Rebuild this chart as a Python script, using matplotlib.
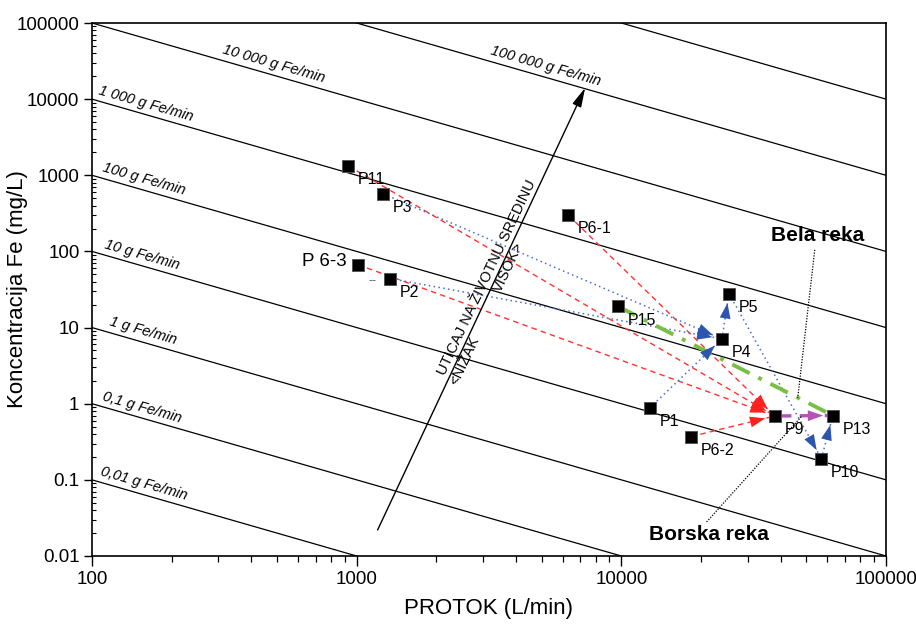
import numpy as np
import matplotlib
matplotlib.use("Agg")
import matplotlib.pyplot as plt
from matplotlib.ticker import FixedLocator, FuncFormatter, LogLocator, NullFormatter

plt.rcParams["font.family"] = ["Liberation Sans", "DejaVu Sans"]

# sampling points: flow (L/min) and Fe concentration (mg/L)
names = ["P11", "P3", "P 6-3", "P2", "P6-1", "P15", "P4", "P5",
         "P1", "P6-2", "P9", "P13", "P10"]
flow = [930, 1260, 1010, 1340, 6300, 9700, 24000, 25500,
        12800, 18300, 38000, 63000, 57000]
conc = [1330, 570, 67, 44, 300, 19, 7.1, 28,
        0.88, 0.37, 0.69, 0.70, 0.19]

# constant Fe load lines (g Fe/min)
loads = [0.01, 0.1, 1, 10, 100, 1000, 10000, 100000, 1000000]
load_labels = ["0,01 g Fe/min", "0,1 g Fe/min", "1 g Fe/min", "10 g Fe/min",
               "100 g Fe/min", "1 000 g Fe/min", "10 000 g Fe/min",
               "100 000 g Fe/min", ""]
load_label_x = [107, 109, 116, 111, 109, 105, 310, 3190, None]

# flow paths between points
red_paths = [("P11", "P9"), ("P 6-3", "P9"), ("P6-1", "P9"), ("P6-2", "P9")]
blue_paths = [("P3", "P4"), ("P2", "P4"), ("P1", "P4"), ("P4", "P5"),
              ("P5", "P10"), ("P10", "P13")]
magenta_paths = [("P9", "P13")]
green_paths = [("P15", "P13")]

# impact arrow (bottom -> top) and river leaders
impact_start = (1200, 0.022)
impact_end = (7300, 14100)
bela_text = (55300, 160)
bela_leader = [(53800, 105), (46400, 1.19)]
borska_text = (21400, 0.0189)
borska_leader = [(21000, 0.028), (48100, 0.69)]

pos = dict(zip(names, zip(flow, conc)))

fig = plt.figure(figsize=(9.16, 6.26), dpi=100)
ax = fig.add_axes([92 / 916, 1 - 556 / 626, 794 / 916, 533 / 626])
ax.set_xscale("log")
ax.set_yscale("log")
ax.set_xlim(100, 100000)
ax.set_ylim(0.01, 100000)


def screen_angle(p0, p1):
    d0 = ax.transData.transform(p0)
    d1 = ax.transData.transform(p1)
    return np.degrees(np.arctan2(d1[1] - d0[1], d1[0] - d0[0]))


def along(p0, p1, t):
    lx = np.log10(p0[0]) + t * (np.log10(p1[0]) - np.log10(p0[0]))
    ly = np.log10(p0[1]) + t * (np.log10(p1[1]) - np.log10(p0[1]))
    return 10 ** lx, 10 ** ly


# load lines
q = np.array([100.0, 100000.0])
line_angle = screen_angle((100, 10), (100000, 0.01))
for load, label, lx in zip(loads, load_labels, load_label_x):
    ax.plot(q, 1000 * load / q, color="black", lw=0.9, zorder=1)
    if label:
        ax.annotate(label, xy=(lx, 1000 * load / lx), xytext=(0, 5),
                    textcoords="offset points", rotation=line_angle,
                    rotation_mode="anchor", ha="left", va="baseline",
                    fontsize=10.5, fontstyle="italic")


def head(p0, p1, color):
    d0 = ax.transData.transform(p0)
    d1 = ax.transData.transform(p1)
    v = (d1 - d0) / np.hypot(*(d1 - d0))
    tail = ax.transData.inverted().transform(d1 - v * 25)
    ax.annotate("", xy=p1, xytext=tail,
                arrowprops=dict(arrowstyle="-|>,head_length=0.85,head_width=0.3",
                                color=color, lw=0, shrinkA=0, shrinkB=7,
                                mutation_scale=13), zorder=4)


for a, b in red_paths:
    p0, p1 = pos[a], pos[b]
    ax.plot([p0[0], p1[0]], [p0[1], p1[1]], color="#ff3333", lw=1.0,
            dashes=(4, 3), zorder=2)
    head(p0, p1, "#ff2020")

for a, b in blue_paths:
    p0, p1 = pos[a], pos[b]
    ax.plot([p0[0], p1[0]], [p0[1], p1[1]], color="#4a6cd0", lw=1.1,
            dashes=(1, 2.2), zorder=2)
    head(p0, p1, "#2d55b0")

for a, b in magenta_paths:
    p0, p1 = pos[a], pos[b]
    ax.plot([p0[0], p1[0]], [p0[1], p1[1]], color="#b552b5", lw=2.4,
            dashes=(5, 2.5), zorder=2)
    head(p0, p1, "#b552b5")

for a, b in green_paths:
    p0, p1 = pos[a], pos[b]
    ax.plot([p0[0], p1[0]], [p0[1], p1[1]], color="#78bf45", lw=2.8,
            dashes=(5, 2.5, 1, 2.5), zorder=2)

# sampling points and their labels
ax.plot(flow, conc, "s", color="black", markersize=8, mec="#555555",
        mew=0.7, zorder=5)
for n, x, y in zip(names, flow, conc):
    if n == "P 6-3":
        ax.annotate(n, xy=(x, y), xytext=(-8, 2), textcoords="offset points",
                    ha="right", va="center", fontsize=13.5)
    else:
        ax.annotate(n, xy=(x, y), xytext=(7, -10), textcoords="offset points",
                    ha="left", va="center", fontsize=11.5)
ax.annotate("--", xy=pos["P2"], xytext=(-13, -2), textcoords="offset points",
            ha="center", va="center", fontsize=9, color="#555555")

# impact arrow with its captions
ax.annotate("", xy=impact_end, xytext=impact_start,
            arrowprops=dict(arrowstyle="-|>,head_length=0.9,head_width=0.22",
                            color="black", lw=1.0, mutation_scale=13,
                            shrinkA=0, shrinkB=0), zorder=3)
arrow_angle = screen_angle(impact_start, impact_end)
ax.annotate("UTICAJ NA ŽIVOTNU SREDINU", xy=along(impact_start, impact_end, 0.557),
            xytext=(0, 2), textcoords="offset points", rotation=arrow_angle,
            rotation_mode="anchor", ha="center", va="bottom", fontsize=10.5)
ax.text(*along(impact_start, impact_end, 0.39), "<NIŽAK", rotation=arrow_angle,
        rotation_mode="anchor", ha="center", va="top", fontsize=10.5)
ax.text(*along(impact_start, impact_end, 0.60), "VISOK>", rotation=arrow_angle,
        rotation_mode="anchor", ha="center", va="top", fontsize=10.5)

# river names with leader lines
ax.text(*bela_text, "Bela reka", ha="center", va="center", fontsize=15,
        fontweight="bold")
ax.plot(*zip(*bela_leader), color="black", lw=0.9, dashes=(1, 1.2), zorder=3)
ax.text(*borska_text, "Borska reka", ha="center", va="center", fontsize=15,
        fontweight="bold")
ax.plot(*zip(*borska_leader), color="black", lw=0.9, dashes=(1, 1.2), zorder=3)

# axes styling
fmt = FuncFormatter(lambda v, _: f"{v:.0f}" if v >= 1 else f"{v:g}")
ax.xaxis.set_major_locator(FixedLocator([100, 1000, 10000, 100000]))
ax.yaxis.set_major_locator(FixedLocator([0.01, 0.1, 1, 10, 100, 1000, 10000, 100000]))
ax.xaxis.set_major_formatter(fmt)
ax.yaxis.set_major_formatter(fmt)
ax.xaxis.set_minor_locator(LogLocator(base=10, subs=np.arange(2, 10), numticks=20))
ax.yaxis.set_minor_locator(LogLocator(base=10, subs=np.arange(2, 10), numticks=20))
ax.xaxis.set_minor_formatter(NullFormatter())
ax.yaxis.set_minor_formatter(NullFormatter())
ax.tick_params(axis="x", which="major", direction="out", length=7, width=1,
               labelsize=13.5, pad=4)
ax.tick_params(axis="x", which="minor", direction="out", length=4, width=0.9)
ax.tick_params(axis="y", which="major", direction="out", length=6, width=1,
               labelsize=13.5, pad=3)
ax.tick_params(axis="y", which="minor", direction="in", length=3, width=0.8)
for s in ax.spines.values():
    s.set_linewidth(1.2)

ax.set_xlabel("PROTOK (L/min)", fontsize=16)
ax.set_ylabel("Koncentracija Fe (mg/L)", fontsize=16)
ax.xaxis.set_label_coords(0.5, -0.0976)
ax.yaxis.set_label_coords(-0.0932, 0.5)
ax.xaxis.label.set_va("center")
ax.yaxis.label.set_va("center")

fig.savefig("out.png", dpi=100)
